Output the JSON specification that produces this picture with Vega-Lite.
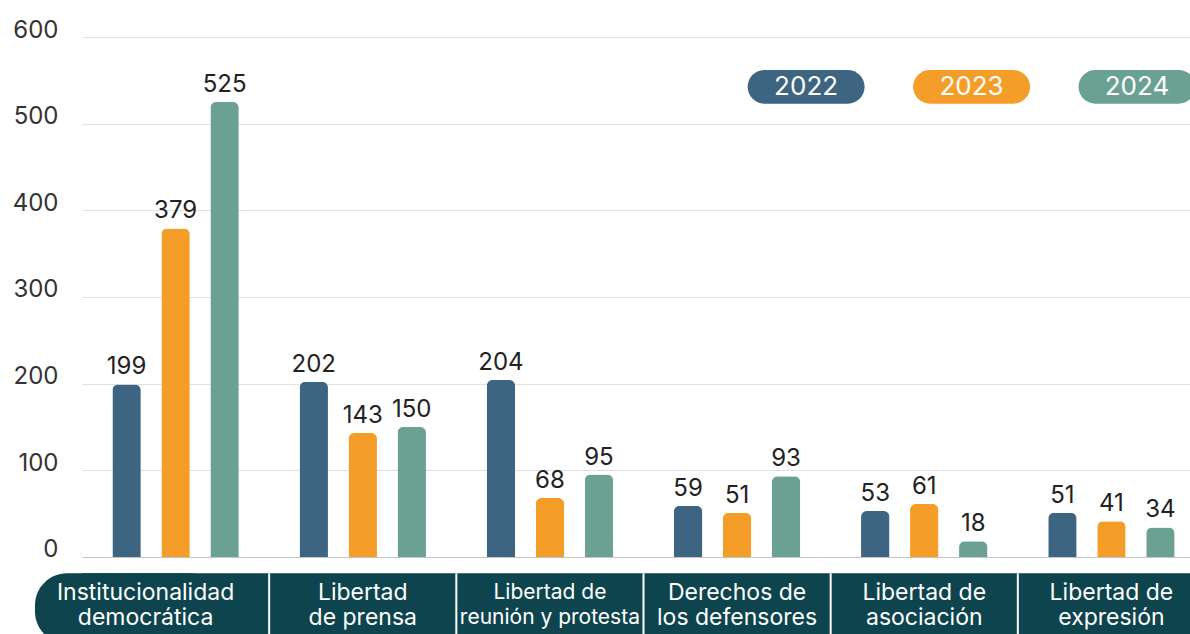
{
  "$schema": "https://vega.github.io/schema/vega-lite/v6.json",
  "width": 1102,
  "height": 597,
  "autosize": {"type": "none"},
  "padding": {"left": 88, "top": 37, "right": 0, "bottom": 0},
  "background": "white",
  "config": {"view": {"stroke": null}, "font": "Inter"},
  "datasets": {
    "bars": [
      {"categoria": "Institucionalidad\ndemocrática", "anio": 2022, "valor": 199},
      {"categoria": "Institucionalidad\ndemocrática", "anio": 2023, "valor": 379},
      {"categoria": "Institucionalidad\ndemocrática", "anio": 2024, "valor": 525},
      {"categoria": "Libertad\nde prensa", "anio": 2022, "valor": 202},
      {"categoria": "Libertad\nde prensa", "anio": 2023, "valor": 143},
      {"categoria": "Libertad\nde prensa", "anio": 2024, "valor": 150},
      {"categoria": "Libertad de\nreunión y protesta", "anio": 2022, "valor": 204},
      {"categoria": "Libertad de\nreunión y protesta", "anio": 2023, "valor": 68},
      {"categoria": "Libertad de\nreunión y protesta", "anio": 2024, "valor": 95},
      {"categoria": "Derechos de\nlos defensores", "anio": 2022, "valor": 59},
      {"categoria": "Derechos de\nlos defensores", "anio": 2023, "valor": 51},
      {"categoria": "Derechos de\nlos defensores", "anio": 2024, "valor": 93},
      {"categoria": "Libertad de\nasociación", "anio": 2022, "valor": 53},
      {"categoria": "Libertad de\nasociación", "anio": 2023, "valor": 61},
      {"categoria": "Libertad de\nasociación", "anio": 2024, "valor": 18},
      {"categoria": "Libertad de\nexpresión", "anio": 2022, "valor": 51},
      {"categoria": "Libertad de\nexpresión", "anio": 2023, "valor": 41},
      {"categoria": "Libertad de\nexpresión", "anio": 2024, "valor": 34}
    ],
    "cats": [
      {"categoria": "Institucionalidad\ndemocrática"},
      {"categoria": "Libertad\nde prensa"},
      {"categoria": "Libertad de\nreunión y protesta"},
      {"categoria": "Derechos de\nlos defensores"},
      {"categoria": "Libertad de\nasociación"},
      {"categoria": "Libertad de\nexpresión"}
    ],
    "years": [
      {"anio": 2022},
      {"anio": 2023},
      {"anio": 2024}
    ]
  },
  "layer": [
    {
      "layer": [
        {
          "data": {"name": "bars"},
          "mark": {"type": "bar", "cornerRadiusEnd": 6},
          "encoding": {
            "x": {"field": "categoria", "type": "nominal", "axis": null,
              "scale": {"domain": ["Institucionalidad\ndemocrática", "Libertad\nde prensa", "Libertad de\nreunión y protesta", "Derechos de\nlos defensores", "Libertad de\nasociación", "Libertad de\nexpresión"], "range": [-6, 1117], "paddingInner": 0, "paddingOuter": 0}},
            "xOffset": {"field": "anio", "type": "nominal", "scale": {"paddingInner": 0.42, "paddingOuter": 0.62}},
            "y": {"field": "valor", "type": "quantitative",
              "scale": {"domain": [-89, 600], "nice": false},
              "axis": {"values": [0, 100, 200, 300, 400, 500, 600], "ticks": false, "tickSize": 0, "domain": false,
                "labelPadding": 30, "labelAlign": "right", "labelBaseline": "alphabetic", "labelFontSize": 24,
                "labelColor": "#333333", "labelFont": "Inter", "title": null,
                "gridColor": {"condition": {"test": "datum.value === 0", "value": "#c4c4c4"}, "value": "#e0e0e0"}}},
            "color": {"field": "anio", "type": "nominal", "legend": null,
              "scale": {"domain": [2022, 2023, 2024], "range": ["#3d6480", "#f59d29", "#6aa193"]}}
          }
        },
        {
          "data": {"name": "bars"},
          "mark": {"type": "text", "dy": -10, "baseline": "alphabetic", "fontSize": 24, "color": "#222222"},
          "encoding": {
            "x": {"field": "categoria", "type": "nominal", "axis": null},
            "xOffset": {"field": "anio", "type": "nominal"},
            "y": {"field": "valor", "type": "quantitative"},
            "text": {"field": "valor", "type": "quantitative"}
          }
        },
        {
          "data": {"name": "cats"},
          "transform": [{"filter": "datum.categoria === 'Institucionalidad\\ndemocrática'"}],
          "mark": {"type": "rect", "color": "#0e444d", "xOffset": -47, "cornerRadius": 32},
          "encoding": {
            "x": {"field": "categoria", "type": "nominal", "axis": null},
            "y": {"datum": -19},
            "y2": {"datum": -100}
          }
        },
        {
          "data": {"name": "cats"},
          "mark": {"type": "rect", "color": "#0e444d"},
          "encoding": {
            "x": {"field": "categoria", "type": "nominal", "axis": null},
            "y": {"datum": -19},
            "y2": {"datum": -100}
          }
        },
        {
          "data": {"name": "cats"},
          "transform": [{"filter": "datum.categoria !== 'Institucionalidad\\ndemocrática'"}],
          "mark": {"type": "rule", "color": "white", "strokeWidth": 2},
          "encoding": {
            "x": {"field": "categoria", "type": "nominal", "axis": null, "bandPosition": 0},
            "y": {"datum": -19},
            "y2": {"datum": -100}
          }
        },
        {
          "data": {"name": "cats"},
          "transform": [{"filter": "datum.categoria !== 'Institucionalidad\\ndemocrática'"}],
          "mark": {"type": "text", "color": "white", "lineBreak": "\n", "lineHeight": 24.5, "baseline": "middle", "align": "center"},
          "encoding": {
            "x": {"field": "categoria", "type": "nominal", "axis": null},
            "y": {"datum": -42},
            "text": {"field": "categoria", "type": "nominal"},
            "size": {"condition": {"test": "datum.categoria === 'Libertad de\\nreunión y protesta'", "value": 21}, "value": 23}
          }
        },
        {
          "data": {"name": "cats"},
          "transform": [{"filter": "datum.categoria === 'Institucionalidad\\ndemocrática'"}],
          "mark": {"type": "text", "color": "white", "lineBreak": "\n", "lineHeight": 24.5, "baseline": "middle", "align": "center", "dx": -30, "fontSize": 23},
          "encoding": {
            "x": {"field": "categoria", "type": "nominal", "axis": null},
            "y": {"datum": -42},
            "text": {"field": "categoria", "type": "nominal"}
          }
        }
      ]
    },
    {
      "data": {"name": "years"},
      "layer": [
        {
          "mark": {"type": "bar", "width": 117, "cornerRadius": 17},
          "encoding": {
            "x": {"field": "anio", "type": "quantitative", "axis": null,
              "scale": {"domain": [2017.69, 2024.29], "nice": false, "zero": false}},
            "y": {"datum": 523},
            "y2": {"datum": 562},
            "color": {"field": "anio", "type": "nominal", "legend": null}
          }
        },
        {
          "mark": {"type": "text", "color": "white", "fontSize": 26, "baseline": "middle", "align": "center"},
          "encoding": {
            "x": {"field": "anio", "type": "quantitative", "axis": null},
            "y": {"datum": 542.5},
            "text": {"field": "anio", "type": "nominal"}
          }
        }
      ]
    }
  ],
  "resolve": {"scale": {"x": "independent"}}
}
